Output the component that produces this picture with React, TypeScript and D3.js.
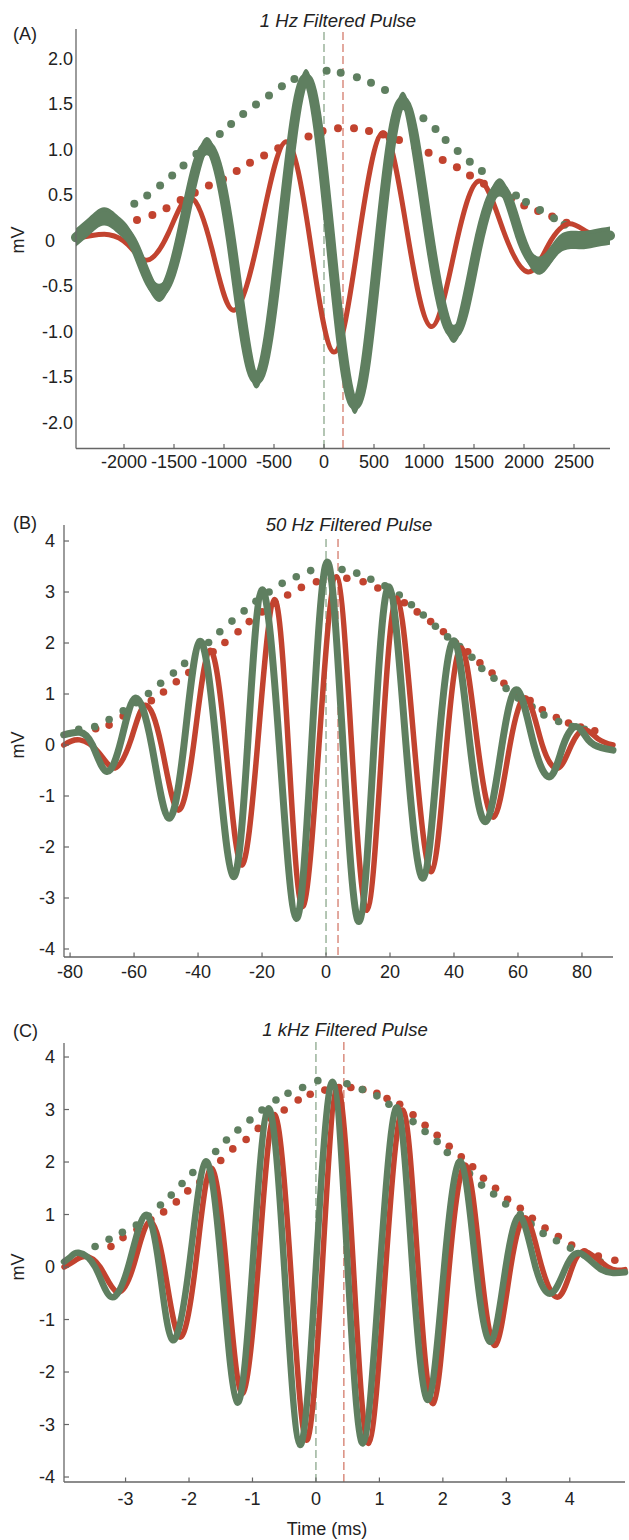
import React from 'react';
import * as d3 from 'd3';

type Pt = [number, number];

const RED = '#c2432f';
const GREEN = '#5f7f60';
const RED_DASH = '#d0705f';
const GREEN_DASH = '#82a082';
const AXIS = '#666666';
const INK = '#222222';
const FONT = '"Liberation Sans", Arial, Helvetica, sans-serif';

// ---------- (A) 1 Hz filtered pulse ----------
const aXTicks = [-2000, -1500, -1000, -500, 0, 500, 1000, 1500, 2000, 2500];
const aYTicks = [2.0, 1.5, 1.0, 0.5, 0, -0.5, -1.0, -1.5, -2.0];
const aMarkers: Pt = [0, 190]; // green, red reference times
const aGreenNoise = 0.1; // half-height of the noise band on the green trace (mV)
const aRed: Pt[] = [
  [-2480, 0.02], [-2320, 0.05], [-2150, 0.06], [-1960, -0.05], [-1770, -0.22],
  [-1555, 0.08], [-1340, 0.47], [-1120, -0.1], [-900, -0.77], [-640, 0.1],
  [-380, 1.08], [-140, 0.0], [100, -1.23], [345, 0.0], [590, 1.18], [830, 0.1],
  [1070, -0.95], [1310, -0.1], [1550, 0.65], [1795, 0.1], [2040, -0.35],
  [2245, -0.05], [2450, 0.18], [2650, 0.08], [2860, 0.05],
];
const aGreen: Pt[] = [
  [-2480, 0.03], [-2350, 0.15], [-2200, 0.26], [-2050, 0.16], [-1880, -0.1],
  [-1650, -0.58], [-1420, 0.1], [-1180, 1.03], [-930, 0.0], [-680, -1.53],
  [-430, 0.05], [-180, 1.78], [65, 0.0], [310, -1.81], [550, -0.05], [790, 1.53],
  [1045, 0.1], [1300, -1.03], [1530, -0.1], [1760, 0.58], [1960, 0.05],
  [2160, -0.28], [2350, -0.05], [2550, 0.0], [2700, 0.02], [2860, 0.05],
];
const aRedDots: Pt[] = [
  [-1870, 0.22], [-1716, 0.275], [-1575, 0.35], [-1434, 0.44], [-1292, 0.52],
  [-1151, 0.6], [-1010, 0.67], [-873, 0.76], [-740, 0.85], [-599, 0.93],
  [-458, 1.01], [-317, 1.08], [-155, 1.14], [-14, 1.2], [140, 1.23], [300, 1.23],
  [450, 1.2], [590, 1.16], [750, 1.1], [910, 1.03], [1046, 0.96], [1187, 0.88],
  [1329, 0.8], [1460, 0.71], [1599, 0.62], [1732, 0.55], [1873, 0.46],
  [2002, 0.38], [2141, 0.32], [2282, 0.26], [2425, 0.19],
];
const aGreenDots: Pt[] = [
  [-1897, 0.4], [-1768, 0.49], [-1639, 0.6], [-1518, 0.71], [-1405, 0.82],
  [-1276, 0.945], [-1163, 1.06], [-1042, 1.165], [-929, 1.275], [-808, 1.385],
  [-680, 1.49], [-550, 1.59], [-421, 1.69], [-296, 1.77], [26, 1.86], [167, 1.84],
  [329, 1.79], [470, 1.73], [610, 1.65], [994, 1.34], [1115, 1.22], [1216, 1.1],
  [1337, 0.98], [1458, 0.86], [1579, 0.76], [1920, 0.49], [2020, 0.42],
  [2160, 0.33], [2300, 0.24], [2405, 0.17],
];

// ---------- (B) 50 Hz filtered pulse ----------
const bXTicks = [-80, -60, -40, -20, 0, 20, 40, 60, 80];
const bYTicks = [4, 3, 2, 1, 0, -1, -2, -3, -4];
const bMarkers: Pt = [0, 3.75];
const bRed: Pt[] = [
  [-82, 0.0], [-77, 0.1], [-71, -0.15], [-66, -0.45], [-61, 0.1], [-56.5, 0.78],
  [-51.5, 0.0], [-46.4, -1.27], [-41.4, 0.0], [-36.4, 1.85], [-31.4, 0.0],
  [-26.5, -2.35], [-21.4, 0.0], [-16.2, 2.85], [-11.8, 0.0], [-7.4, -3.17],
  [-2.2, 0.0], [3.2, 3.3], [8.0, 0.0], [12.8, -3.24], [17.5, 0.0], [22.2, 2.88],
  [27.6, 0.0], [33, -2.48], [37.7, 0.0], [42.4, 1.9], [47.4, 0.0], [52.5, -1.41],
  [57.5, 0.0], [62.6, 0.92], [67.6, 0.0], [72.6, -0.45], [76.7, 0.0], [80.8, 0.3],
  [85, 0.12], [89.7, 0.0],
];
const bGreen: Pt[] = [
  [-82, 0.2], [-77, 0.25], [-73, 0.0], [-68.5, -0.52], [-64, 0.1], [-59.6, 0.92],
  [-54.5, 0.0], [-49.3, -1.43], [-44.4, 0.0], [-39.5, 2.03], [-34.3, 0.0],
  [-29, -2.58], [-24.5, 0.0], [-20, 3.04], [-14.6, 0.0], [-9.3, -3.4], [-4.5, 0.0],
  [0.4, 3.59], [5.3, 0.0], [10.3, -3.46], [15, 0.0], [19.7, 3.1], [25, 0.0],
  [30.4, -2.61], [35.2, 0.0], [40.1, 2.04], [45, 0.0], [50, -1.5], [55, 0.0],
  [59.8, 1.08], [65, 0.0], [70.1, -0.62], [74.2, 0.0], [78.3, 0.36], [82, 0.1],
  [86, -0.05], [89.7, -0.1],
];
const bRedDots: Pt[] = [
  [-72, 0.32], [-67.8, 0.39], [-63.4, 0.57], [-54.6, 0.87], [-50.8, 1.04],
  [-46.8, 1.24], [-42.9, 1.42], [-35.3, 1.83], [-31.6, 2.01], [-27.5, 2.22],
  [-24, 2.42], [-20, 2.61], [-15.9, 2.78], [-12, 2.94], [-7.7, 3.09], [-3, 3.2],
  [1.7, 3.26], [6.5, 3.27], [11.6, 3.2], [16.2, 3.08], [20.3, 2.94], [24.5, 2.79],
  [28.5, 2.61], [32.7, 2.42], [36.7, 2.22], [40.5, 2.0], [44.3, 1.83], [48.1, 1.61],
  [51.9, 1.41], [55.6, 1.21], [59.4, 1.01], [63.8, 0.87], [67.6, 0.69], [72, 0.54],
  [75.8, 0.43], [79.6, 0.35], [84, 0.28],
];
const bGreenDots: Pt[] = [
  [-77.3, 0.31], [-72.3, 0.36], [-67.8, 0.5], [-63.4, 0.67], [-59.3, 0.83],
  [-55.5, 1.01], [-51.7, 1.21], [-47.7, 1.41], [-44.2, 1.6], [-36.7, 2.01],
  [-33.2, 2.22], [-29.4, 2.43], [-25.6, 2.63], [-21.9, 2.82], [-17.8, 3.0],
  [-13.7, 3.17], [-9.3, 3.3], [-4.8, 3.42], [0.2, 3.53], [5, 3.44], [9.6, 3.37],
  [14, 3.25], [18.4, 3.12], [22.9, 2.94], [26.7, 2.75], [30.4, 2.55], [34.2, 2.33],
  [38, 2.12], [41.8, 1.93], [45.6, 1.72], [48.7, 1.5], [52.5, 1.31], [56.3, 1.11],
  [60, 0.92], [64.4, 0.75], [68.1, 0.59], [72.7, 0.46], [77, 0.36], [80.8, 0.31],
];

// ---------- (C) 1 kHz filtered pulse ----------
const cXTicks = [-3, -2, -1, 0, 1, 2, 3, 4];
const cYTicks = [4, 3, 2, 1, 0, -1, -2, -3, -4];
const cMarkers: Pt = [0, 0.44];
const cRed: Pt[] = [
  [-3.97, 0.0], [-3.8, 0.12], [-3.64, 0.2], [-3.4, 0.0], [-3.14, -0.47],
  [-2.88, 0.0], [-2.63, 0.86], [-2.39, 0.0], [-2.15, -1.33], [-1.9, 0.0],
  [-1.66, 1.88], [-1.41, 0.0], [-1.17, -2.41], [-0.91, 0.0], [-0.66, 2.9],
  [-0.4, 0.0], [-0.15, -3.3], [0.1, 0.0], [0.34, 3.43], [0.59, 0.0], [0.83, -3.36],
  [1.1, 0.0], [1.37, 2.99], [1.61, 0.0], [1.85, -2.6], [2.1, 0.0], [2.36, 1.94],
  [2.6, 0.0], [2.83, -1.49], [3.07, 0.0], [3.31, 0.93], [3.56, 0.0], [3.82, -0.57],
  [4.04, 0.0], [4.26, 0.29], [4.6, 0.0], [4.87, -0.05],
];
const cGreen: Pt[] = [
  [-3.97, 0.1], [-3.86, 0.2], [-3.74, 0.27], [-3.48, 0.0], [-3.23, -0.57],
  [-2.96, 0.0], [-2.69, 0.99], [-2.47, 0.0], [-2.26, -1.39], [-2.0, 0.0],
  [-1.74, 2.01], [-1.49, 0.0], [-1.24, -2.58], [-1.0, 0.0], [-0.75, 3.02],
  [-0.5, 0.0], [-0.25, -3.39], [0.0, 0.0], [0.26, 3.53], [0.5, 0.0], [0.74, -3.36],
  [1.01, 0.0], [1.28, 3.04], [1.52, 0.0], [1.77, -2.53], [2.02, 0.0], [2.28, 2.01],
  [2.52, 0.0], [2.76, -1.42], [2.99, 0.0], [3.22, 0.96], [3.46, 0.0], [3.71, -0.5],
  [3.94, 0.0], [4.17, 0.26], [4.5, -0.05], [4.87, -0.1],
];
const cRedDots: Pt[] = [
  [-3.23, 0.39], [-3.04, 0.56], [-2.82, 0.72], [-2.6, 0.9], [-2.4, 1.05],
  [-2.2, 1.24], [-2.02, 1.45], [-1.83, 1.62], [-1.5, 2.03], [-1.31, 2.25],
  [-1.1, 2.43], [-0.91, 2.64], [-0.71, 2.83], [-0.5, 2.99], [-0.28, 3.18],
  [-0.09, 3.29], [0.14, 3.37], [0.36, 3.42], [0.55, 3.42], [0.74, 3.38],
  [0.96, 3.31], [1.12, 3.21], [1.32, 3.1], [1.53, 2.9], [1.72, 2.7], [1.91, 2.51],
  [2.1, 2.3], [2.29, 2.1], [2.47, 1.91], [2.64, 1.69], [2.83, 1.5], [3.02, 1.29],
  [3.22, 1.12], [3.41, 0.93], [3.61, 0.74], [3.82, 0.58], [4.03, 0.42],
  [4.23, 0.29], [4.45, 0.21], [4.71, 0.13],
];
const cGreenDots: Pt[] = [
  [-3.48, 0.39], [-3.26, 0.53], [-3.05, 0.66], [-2.83, 0.8], [-2.64, 0.97],
  [-2.45, 1.18], [-2.28, 1.37], [-2.11, 1.59], [-1.94, 1.8], [-1.58, 2.2],
  [-1.41, 2.42], [-1.23, 2.61], [-1.04, 2.8], [-0.85, 2.99], [-0.63, 3.18],
  [-0.44, 3.31], [-0.21, 3.42], [0.03, 3.55], [0.49, 3.49], [0.73, 3.38],
  [0.96, 3.26], [1.15, 3.1], [1.34, 2.94], [1.53, 2.77], [1.72, 2.58],
  [1.91, 2.39], [2.07, 2.18], [2.26, 1.98], [2.42, 1.78], [2.61, 1.56],
  [2.8, 1.39], [2.99, 1.2], [3.22, 1.0], [3.39, 0.82], [3.58, 0.64], [3.79, 0.5],
  [4.01, 0.36], [4.23, 0.23], [4.48, 0.1],
];

interface PanelProps {
  letter: string;
  title: string;
  xDomain: [number, number];
  yDomain: [number, number];
  left: number; right: number; top: number; bottom: number;
  xTicks: number[]; yTicks: number[];
  fmtY: (v: number) => string;
  red: Pt[]; green: Pt[]; redDots: Pt[]; greenDots: Pt[];
  markers: Pt;
  greenNoise?: number;
  titleX: number; titleY: number; letterY: number; dashTop: number;
  labelRight: number; zeroLabelRight?: number; xLabelOffset: number;
  yTickLen: number;
  greenWidth: number; redWidth: number; dotR: number;
}

const FS = 18;

function Panel(p: PanelProps) {
  const x = d3.scaleLinear().domain(p.xDomain).range([p.left, p.right]);
  const y = d3.scaleLinear().domain(p.yDomain).range([p.bottom, p.top]);
  const line = d3.line<Pt>().x(d => x(d[0])).y(d => y(d[1])).curve(d3.curveNatural);
  const n = p.greenNoise || 0;
  const band = d3.area<Pt>()
    .x(d => x(d[0]))
    .y0(d => y(d[1] - n))
    .y1(d => y(d[1] + n))
    .curve(d3.curveNatural);
  return (
    <g>
      <text x={13} y={p.letterY} fontSize={FS} fill={INK} fontFamily={FONT}>{p.letter}</text>
      <text x={p.titleX} y={p.titleY} fontSize={FS + 0.5} fontStyle="italic" fill={INK}
        fontFamily={FONT} textAnchor="middle">{p.title}</text>

      {/* reference markers */}
      <line x1={x(p.markers[0])} x2={x(p.markers[0])} y1={p.dashTop} y2={p.bottom}
        stroke={GREEN_DASH} strokeWidth={1.2} strokeDasharray="8,4" />
      <line x1={x(p.markers[1])} x2={x(p.markers[1])} y1={p.dashTop} y2={p.bottom}
        stroke={RED_DASH} strokeWidth={1.2} strokeDasharray="8,4" />

      {/* envelope dots */}
      {p.redDots.map((d, i) => (
        <circle key={'r' + i} cx={x(d[0])} cy={y(d[1])} r={p.dotR} fill={RED} />
      ))}
      {p.greenDots.map((d, i) => (
        <circle key={'g' + i} cx={x(d[0])} cy={y(d[1])} r={p.dotR} fill={GREEN} />
      ))}

      {/* traces */}
      <path d={line(p.red) || ''} fill="none" stroke={RED} strokeWidth={p.redWidth}
        strokeLinejoin="round" strokeLinecap="round" />
      {n > 0 && <path d={band(p.green) || ''} fill={GREEN} stroke="none" />}
      <path d={line(p.green) || ''} fill="none" stroke={GREEN} strokeWidth={p.greenWidth}
        strokeLinejoin="round" strokeLinecap="round" />

      {/* axes */}
      <line x1={p.left} x2={p.left} y1={p.top} y2={p.bottom} stroke={AXIS} strokeWidth={1.3} />
      <line x1={p.left} x2={p.right} y1={p.bottom} y2={p.bottom} stroke={AXIS} strokeWidth={1.3} />
      {p.xTicks.map(t => (
        <g key={'xt' + t}>
          <line x1={x(t)} x2={x(t)} y1={p.bottom} y2={p.bottom - 4.5} stroke={AXIS} strokeWidth={1.2} />
          <text x={x(t)} y={p.bottom + p.xLabelOffset} fontSize={FS} fill={INK} fontFamily={FONT}
            textAnchor="middle">{String(t)}</text>
        </g>
      ))}
      {p.yTicks.map(t => (
        <g key={'yt' + t}>
          {p.yTickLen > 0 && (
            <line x1={p.left} x2={p.left + p.yTickLen} y1={y(t)} y2={y(t)} stroke={AXIS} strokeWidth={1.2} />
          )}
          <text x={t === 0 && p.zeroLabelRight ? p.zeroLabelRight : p.labelRight} y={y(t)}
            dy="0.36em" fontSize={FS} fill={INK} fontFamily={FONT}
            textAnchor="end">{p.fmtY(t)}</text>
        </g>
      ))}
      <text transform={`translate(${24},${y(0)}) rotate(-90)`} fontSize={FS} fill={INK}
        fontFamily={FONT} textAnchor="middle">mV</text>
    </g>
  );
}

export default function App() {
  return (
    <svg width={629} height={1540} viewBox="0 0 629 1540"
      style={{ position: 'absolute', left: 0, top: 0, background: '#fff' }}>
      <rect x={0} y={0} width={629} height={1540} fill="#fff" />
      <Panel letter="(A)" title="1 Hz Filtered Pulse"
        xDomain={[-2480, 2860]} yDomain={[-2.29, 2.32]}
        left={76} right={610} top={29} bottom={448.5}
        xTicks={aXTicks} yTicks={aYTicks}
        fmtY={v => (v === 0 ? '0' : v.toFixed(1))}
        red={aRed} green={aGreen} redDots={aRedDots} greenDots={aGreenDots}
        markers={aMarkers} greenNoise={aGreenNoise}
        titleX={338} titleY={27} letterY={40} dashTop={32}
        labelRight={73} zeroLabelRight={55} xLabelOffset={19} yTickLen={0}
        greenWidth={10} redWidth={5} dotR={4} />
      <Panel letter="(B)" title="50 Hz Filtered Pulse"
        xDomain={[-81.9, 89.7]} yDomain={[-4.157, 4.314]}
        left={64} right={613} top={525} bottom={957}
        xTicks={bXTicks} yTicks={bYTicks}
        fmtY={v => String(v)}
        red={bRed} green={bGreen} redDots={bRedDots} greenDots={bGreenDots}
        markers={bMarkers} titleX={349} titleY={531} letterY={529} dashTop={539}
        labelRight={55} xLabelOffset={21} yTickLen={5}
        greenWidth={7} redWidth={5.5} dotR={3.8} />
      <Panel letter="(C)" title="1 kHz Filtered Pulse"
        xDomain={[-3.97, 4.87]} yDomain={[-4.095, 4.267]}
        left={64} right={625} top={1043} bottom={1482}
        xTicks={cXTicks} yTicks={cYTicks}
        fmtY={v => String(v)}
        red={cRed} green={cGreen} redDots={cRedDots} greenDots={cGreenDots}
        markers={cMarkers} titleX={345} titleY={1036} letterY={1037} dashTop={1042}
        labelRight={55} xLabelOffset={23} yTickLen={5}
        greenWidth={6.5} redWidth={5.5} dotR={3.8} />
      <text x={327} y={1535} fontSize={FS} fill={INK} fontFamily={FONT}
        textAnchor="middle">Time (ms)</text>
    </svg>
  );
}
